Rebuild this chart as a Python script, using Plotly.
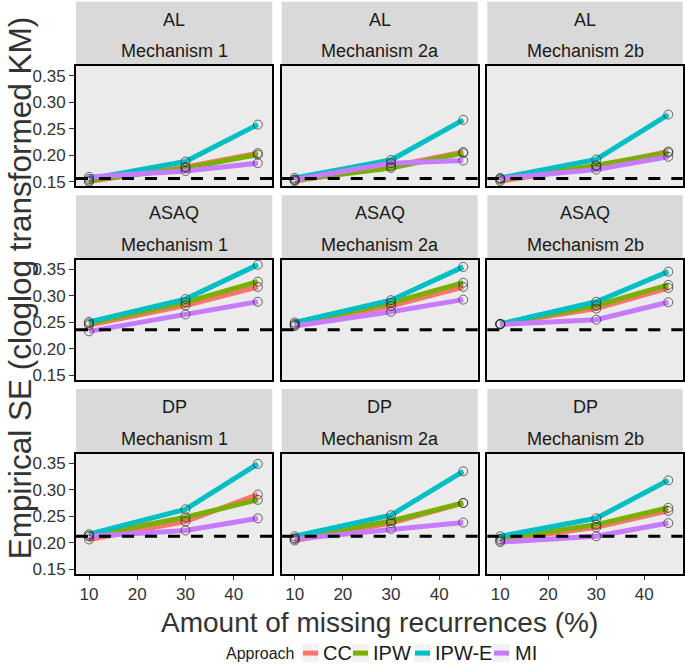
import plotly.graph_objects as go

# ---------------- data ----------------
drugs = ["AL", "ASAQ", "DP"]
mechanisms = ["Mechanism 1", "Mechanism 2a", "Mechanism 2b"]
approaches = ["CC", "IPW", "IPW-E", "MI"]
approach_colors = ["#F8766D", "#7CAE00", "#00BFC4", "#C77CFF"]
missing_pct = [10, 30, 45]
reference_se = [0.156, 0.236, 0.212]   # dashed line per drug
x_ticks = [10, 20, 30, 40]
y_ticks = [0.15, 0.20, 0.25, 0.30, 0.35]

al_m1 = {"CC": [0.150, 0.178, 0.204], "IPW": [0.152, 0.176, 0.201],
         "IPW-E": [0.155, 0.188, 0.258], "MI": [0.159, 0.170, 0.185]}
al_m2a = {"CC": [0.151, 0.179, 0.206], "IPW": [0.153, 0.176, 0.204],
          "IPW-E": [0.157, 0.191, 0.267], "MI": [0.154, 0.185, 0.190]}
al_m2b = {"CC": [0.151, 0.179, 0.207], "IPW": [0.154, 0.181, 0.205],
          "IPW-E": [0.157, 0.192, 0.277], "MI": [0.156, 0.173, 0.197]}
asaq_m1 = {"CC": [0.245, 0.282, 0.317], "IPW": [0.248, 0.288, 0.327],
           "IPW-E": [0.251, 0.294, 0.359], "MI": [0.233, 0.265, 0.289]}
asaq_m2a = {"CC": [0.245, 0.281, 0.317], "IPW": [0.247, 0.287, 0.325],
            "IPW-E": [0.250, 0.292, 0.355], "MI": [0.243, 0.270, 0.293]}
asaq_m2b = {"CC": [0.247, 0.276, 0.315], "IPW": [0.247, 0.282, 0.321],
            "IPW-E": [0.247, 0.289, 0.346], "MI": [0.246, 0.255, 0.288]}
dp_m1 = {"CC": [0.206, 0.240, 0.291], "IPW": [0.213, 0.248, 0.281],
         "IPW-E": [0.216, 0.263, 0.349], "MI": [0.212, 0.223, 0.246]}
dp_m2a = {"CC": [0.204, 0.237, 0.275], "IPW": [0.208, 0.241, 0.275],
          "IPW-E": [0.212, 0.252, 0.335], "MI": [0.207, 0.226, 0.238]}
dp_m2b = {"CC": [0.204, 0.229, 0.260], "IPW": [0.207, 0.234, 0.266],
          "IPW-E": [0.212, 0.246, 0.318], "MI": [0.201, 0.212, 0.237]}

panels = [[al_m1, al_m2a, al_m2b],
          [asaq_m1, asaq_m2a, asaq_m2b],
          [dp_m1, dp_m2a, dp_m2b]]

# ---------------- layout geometry (pixels) ----------------
W, H = 685, 671
FONT = "Liberation Sans, Arial, sans-serif"
col_px = [(76, 272.3), (281.7, 477.7), (487.3, 682.7)]
row_px = [(66.7, 187.7), (261.7, 382.7), (457, 578)]
strip_px = [(1.7, 66.7), (196.7, 261.7), (392, 457)]
X_RANGE = [7.3, 48.0]
Y_RANGE = [0.1412, 0.3685]

# legend placement (pixels): title left, then key/text pairs
LEG_Y = 658
LEG_TITLE_X = 224
LEG_KEY_X = [302, 352, 414, 493]
LEG_TEXT_X = [321, 371, 433, 513]


def px_x(v):
    return v / W


def px_y(v):
    return 1 - v / H


fig = go.Figure()
layout = dict(
    width=W, height=H, autosize=False,
    margin=dict(l=0, r=0, t=0, b=0),
    paper_bgcolor="white", plot_bgcolor="#EBEBEB",
    font=dict(family=FONT, color="#1A1A1A"),
    showlegend=False,
)
shapes, annotations = [], []

for i, drug in enumerate(drugs):
    for j, mech in enumerate(mechanisms):
        k = i * 3 + j + 1
        xa = "x" if k == 1 else f"x{k}"
        ya = "y" if k == 1 else f"y{k}"
        data = panels[i][j]
        # lines
        for a, col in zip(approaches, approach_colors):
            fig.add_trace(go.Scatter(
                x=missing_pct, y=data[a], mode="lines", name=a,
                line=dict(color=col, width=5),
                xaxis=xa, yaxis=ya, showlegend=False, hoverinfo="skip"))
        # open circles on top
        for a in approaches:
            fig.add_trace(go.Scatter(
                x=missing_pct, y=data[a], mode="markers", name=a,
                marker=dict(symbol="circle-open", size=9,
                            color="rgba(30,30,30,0.65)",
                            line=dict(width=1)),
                xaxis=xa, yaxis=ya, showlegend=False, hoverinfo="skip"))

        x0, x1 = col_px[j]
        y0, y1 = row_px[i]
        layout["xaxis" if k == 1 else f"xaxis{k}"] = dict(
            domain=[px_x(x0), px_x(x1)], anchor=ya, range=X_RANGE,
            showgrid=False, zeroline=False,
            showline=True, mirror=True, linecolor="black", linewidth=2,
            tickvals=x_ticks, ticks="outside" if i == 2 else "",
            ticklen=4, tickwidth=1.3, tickcolor="#333333",
            showticklabels=(i == 2),
            tickfont=dict(size=17, color="#333333", family=FONT))
        layout["yaxis" if k == 1 else f"yaxis{k}"] = dict(
            domain=[px_y(y1), px_y(y0)], anchor=xa, range=Y_RANGE,
            showgrid=False, zeroline=False,
            showline=True, mirror=True, linecolor="black", linewidth=2,
            tickvals=y_ticks, tickformat=".2f",
            ticks="outside" if j == 0 else "",
            ticklen=5, tickwidth=1.3, tickcolor="#333333",
            showticklabels=(j == 0),
            tickfont=dict(size=17, color="#333333", family=FONT))

        # reference dashed line
        shapes.append(dict(
            type="line", xref=f"{xa} domain", yref=ya,
            x0=0, x1=1, y0=reference_se[i], y1=reference_se[i],
            line=dict(color="black", width=3, dash="12px,11px"),
            layer="above"))

        # strip
        s0, s1 = strip_px[i]
        shapes.append(dict(
            type="rect", xref="paper", yref="paper",
            x0=px_x(x0), x1=px_x(x1), y0=px_y(s1), y1=px_y(s0),
            fillcolor="#D9D9D9", line=dict(width=0), layer="below"))
        annotations.append(dict(
            text=drug, xref="paper", yref="paper",
            x=px_x((x0 + x1) / 2), y=px_y(s0 + 18),
            xanchor="center", yanchor="middle", showarrow=False,
            font=dict(size=18, color="#1A1A1A", family=FONT)))
        annotations.append(dict(
            text=mech, xref="paper", yref="paper",
            x=px_x((x0 + x1) / 2), y=px_y(s0 + 50),
            xanchor="center", yanchor="middle", showarrow=False,
            font=dict(size=18, color="#1A1A1A", family=FONT)))

# axis titles
annotations.append(dict(
    text="Amount of missing recurrences (%)", xref="paper", yref="paper",
    x=px_x((76 + 682.7) / 2), y=px_y(627), xanchor="center", yanchor="middle",
    showarrow=False, font=dict(size=28, color="#333333", family=FONT)))
annotations.append(dict(
    text="Empirical SE (cloglog transformed KM)", xref="paper", yref="paper",
    x=px_x(19.5), y=px_y(290), xanchor="center", yanchor="middle", textangle=-90,
    showarrow=False, font=dict(size=31.5, color="#333333", family=FONT)))

# legend (drawn as keys + text, ggplot style)
annotations.append(dict(
    text="Approach", xref="paper", yref="paper",
    x=px_x(LEG_TITLE_X), y=px_y(LEG_Y), xanchor="left", yanchor="middle",
    showarrow=False, font=dict(size=16, color="#1A1A1A", family=FONT)))
for a, col, kx, tx in zip(approaches, approach_colors, LEG_KEY_X, LEG_TEXT_X):
    shapes.append(dict(
        type="rect", xref="paper", yref="paper",
        x0=px_x(kx), x1=px_x(kx + 17), y0=px_y(LEG_Y + 9), y1=px_y(LEG_Y - 9),
        fillcolor="#F2F2F2", line=dict(width=0)))
    shapes.append(dict(
        type="line", xref="paper", yref="paper",
        x0=px_x(kx + 1), x1=px_x(kx + 16), y0=px_y(LEG_Y), y1=px_y(LEG_Y),
        line=dict(color=col, width=5)))
    annotations.append(dict(
        text=a, xref="paper", yref="paper",
        x=px_x(tx), y=px_y(LEG_Y), xanchor="left", yanchor="middle",
        showarrow=False, font=dict(size=20, color="#1A1A1A", family=FONT)))

layout["shapes"] = shapes
layout["annotations"] = annotations
fig.update_layout(**layout)
fig.write_html("out.html", config={"displayModeBar": False},
               post_script="document.body.style.margin='0';")
